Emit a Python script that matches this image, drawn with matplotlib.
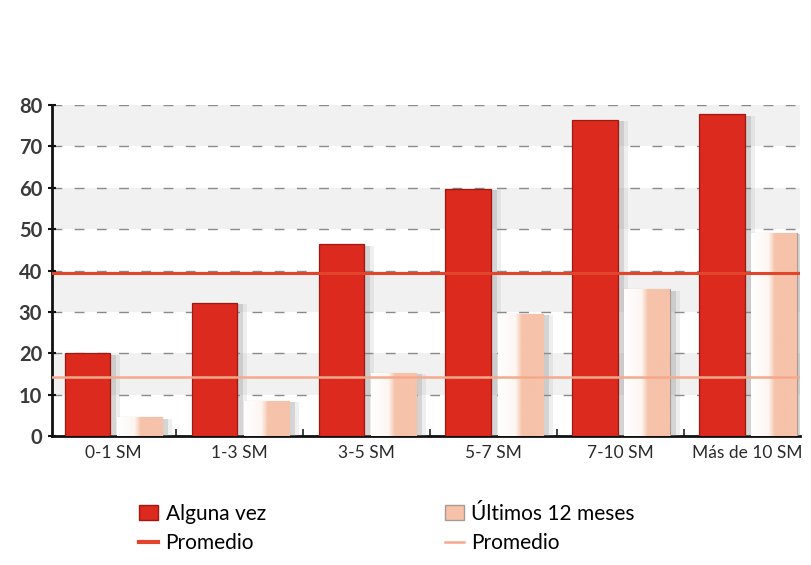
import numpy as np
import matplotlib
matplotlib.use("Agg")
import matplotlib.pyplot as plt
from matplotlib.patches import Patch
from matplotlib.lines import Line2D
from matplotlib import patheffects as pe
from matplotlib.colors import LinearSegmentedColormap

plt.rcParams['font.family'] = ['Lato', 'DejaVu Sans']

categories = ["0-1 SM", "1-3 SM", "3-5 SM", "5-7 SM", "7-10 SM", "Más de 10 SM"]
alguna_vez = [20, 32.3, 46.4, 59.8, 76.5, 77.8]
ultimos_12 = [4.6, 8.6, 15.3, 29.6, 35.5, 49.2]
promedio_alguna = 39.5
promedio_ultimos = 14.2
yticks = [0, 10, 20, 30, 40, 50, 60, 70, 80]

RED = "#dc2a1f"
PEACH = "#f6c2aa"
AVG_RED = "#e2452c"
AVG_PEACH = "#f5a98c"

fig = plt.figure(figsize=(8.11, 5.65), dpi=100)
ax = fig.add_axes([0.064, 0.228, 0.922, 0.586])

x = np.arange(len(categories))
w = 0.36
off_r, off_p = -0.2, 0.21

# alternating light background bands
for lo in range(0, 80, 10):
    if (lo // 10) % 2 == 1:
        ax.axhspan(lo, lo + 10, color="#f1f1f1", zorder=0, lw=0)

for t in yticks[1:]:
    ax.axhline(t, color="#8a8a8a", lw=1.0, ls=(0, (7, 9)), zorder=1)

# soft drop shadow to the right of each bar
shadow = [
    pe.SimplePatchShadow(offset=(7, -1), shadow_rgbFace="#999999", alpha=0.15),
    pe.SimplePatchShadow(offset=(4, -1), shadow_rgbFace="#888888", alpha=0.25),
    pe.Normal(),
]

bars_r = ax.bar(x + off_r, alguna_vez, w, color=RED, edgecolor="#9c1a12", lw=0.9, zorder=3)
bars_p = ax.bar(x + off_p, ultimos_12, w, color=PEACH, edgecolor="#a89a92", lw=0.8, zorder=3)
for b in list(bars_r) + list(bars_p):
    b.set_path_effects(shadow)

# white left half and peach right half inside the light bars
cmap = LinearSegmentedColormap.from_list(
    "peach", [(0, "#ffffff"), (0.38, "#fdf6f2"), (0.52, PEACH), (1, PEACH)])
grad = np.linspace(0, 1, 128).reshape(1, -1)
for b in bars_p:
    x0, y0 = b.get_x(), b.get_y()
    im = ax.imshow(grad, cmap=cmap, aspect="auto", zorder=3.5,
                   extent=(x0, x0 + b.get_width(), y0, y0 + b.get_height()))
    im.set_clip_path(b)

ax.axhline(promedio_alguna, color=AVG_RED, lw=2.2, zorder=4)
ax.axhline(promedio_ultimos, color=AVG_PEACH, lw=1.8, zorder=4)

ax.set_xlim(-0.48, 5.41)
ax.set_ylim(0, 80)
ax.set_yticks(yticks)
ax.set_yticklabels([str(t) for t in yticks], fontsize=14.5, fontweight="bold", color="#3a3a3a")
ax.set_xticks(x)
ax.set_xticklabels(categories, fontsize=12.5, color="#2a2a2a")
ax.set_xticks(x[:-1] + 0.5, minor=True)
ax.tick_params(axis="x", which="major", length=0, pad=6)
ax.tick_params(axis="x", which="minor", length=5, direction="in", width=1.2, color="#222222")
ax.tick_params(axis="y", length=6, direction="inout", width=1.5, color="#111111", pad=4)

for s in ["top", "right"]:
    ax.spines[s].set_visible(False)
ax.spines["left"].set_linewidth(2.0)
ax.spines["left"].set_color("#111111")
ax.spines["bottom"].set_linewidth(2.0)
ax.spines["bottom"].set_color("#111111")

handles = [
    Patch(facecolor=RED, edgecolor="#9c1a12"),
    Line2D([], [], color=AVG_RED, lw=3),
    Patch(facecolor=PEACH, edgecolor="#a89a92"),
    Line2D([], [], color=AVG_PEACH, lw=1.8),
]
labels = ["Alguna vez", "Promedio", "Últimos 12 meses", "Promedio"]
fig.legend(handles, labels, ncol=2, loc="upper left", bbox_to_anchor=(0.172, 0.108),
           frameon=False, fontsize=15, handlelength=0.9, handleheight=0.7,
           handletextpad=0.35, columnspacing=8.6, labelspacing=0.45,
           borderaxespad=0, borderpad=0)

fig.savefig("out.png", dpi=100)
